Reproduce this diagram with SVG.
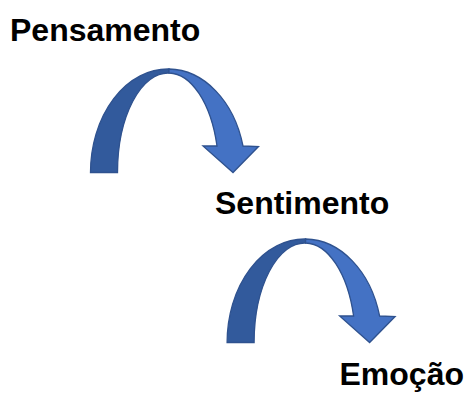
<svg xmlns="http://www.w3.org/2000/svg" xmlns:xlink="http://www.w3.org/1999/xlink" width="467" height="396" viewBox="0 0 467 396">
  <style>
    .label { font-family: "Liberation Sans", Arial, sans-serif; font-weight: bold; font-size: 32px; fill: #000000; }
    .back { fill: #325A9C; stroke: #2F528F; stroke-width: 1.3; stroke-linejoin: miter; }
    .front { fill: #4472C4; stroke: #2F528F; stroke-width: 1.3; stroke-linejoin: miter; }
  </style>
  <defs>
    <g id="curvedArrow">
      <path class="back" d="M 90.5,172.5 A 77.5,103.5 0 0 1 169,69 L 169,73 A 50.5,99.5 0 0 0 117.5,172.5 Z"/>
      <path class="front" d="M 169,69 A 77.5,103.5 0 0 1 243,146 L 258.5,146.5 L 233,172.5 L 203,146 L 217,146 A 50.5,99.5 0 0 0 169,73 Z"/>
    </g>
  </defs>
  <rect width="467" height="396" fill="#ffffff"/>
  <g id="connectors">
    <use id="arrow1" xlink:href="#curvedArrow" href="#curvedArrow"/>
    <use id="arrow2" xlink:href="#curvedArrow" href="#curvedArrow" transform="translate(136.6,170)"/>
  </g>
  <g id="node-pensamento">
    <text class="label" x="10" y="41">Pensamento</text>
  </g>
  <g id="node-sentimento">
    <text class="label" x="215" y="214">Sentimento</text>
  </g>
  <g id="node-emocao">
    <text class="label" x="339.5" y="385">Emoção</text>
  </g>
</svg>
